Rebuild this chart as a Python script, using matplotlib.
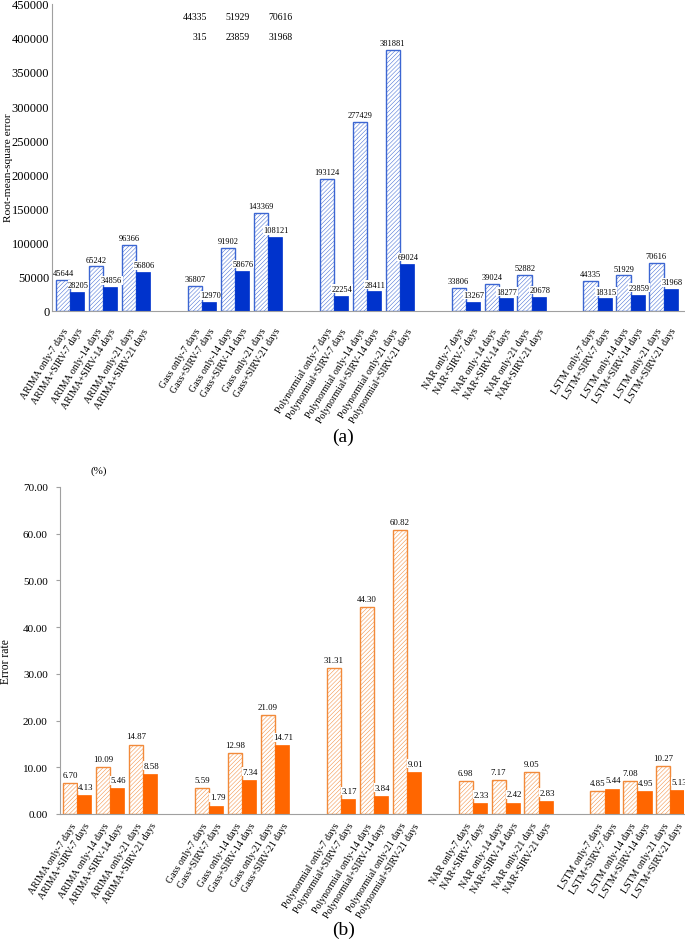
import matplotlib.pyplot as plt
import numpy as np

"""
RMSE and error rate of the five forecasting models, with and without SIRV.
"""

plt.rcParams['font.family'] = ['Liberation Serif', 'DejaVu Serif']
plt.rcParams['hatch.linewidth'] = 0.35

models = ['ARIMA', 'Gass', 'Polynormial', 'NAR', 'LSTM']
days = [7, 14, 21]

rmse_only = [45644, 65242, 96366, 36807, 91902, 143369, 193124, 277429, 381881,
             33806, 39024, 52882, 44335, 51929, 70616]
rmse_sirv = [28205, 34856, 56806, 12970, 58676, 108121, 22254, 28411, 69024,
             13267, 18277, 20678, 18315, 23859, 31968]

err_only = [6.70, 10.09, 14.87, 5.59, 12.98, 21.09, 31.31, 44.30, 60.82,
            6.98, 7.17, 9.05, 4.85, 7.08, 10.27]
err_sirv = [4.13, 5.46, 8.58, 1.79, 7.34, 14.71, 3.17, 3.84, 9.01,
            2.33, 2.42, 2.83, 5.44, 4.95, 5.13]

# stray labels left over in the top panel of the original figure
stray_top = ['44335', '51929', '70616']
stray_bottom = ['315', '23859', '31968']

W = 0.43


def slots():
    # one blank pair slot between model groups
    return np.array([g * 4 + k for g in range(len(models)) for k in range(len(days))])


def tick_labels():
    labels = []
    for m in models:
        for d in days:
            labels.append(f'{m} only-{d} days')
            labels.append(f'{m}+SIRV-{d} days')
    return labels


def draw(ax, only, sirv, edge, solid, fmt, ymax, step, off, vsize, xpad):
    x = slots()
    b1 = ax.bar(x - W / 2, only, W, facecolor='white', edgecolor=edge,
                hatch='////////', linewidth=1.0)
    b2 = ax.bar(x + W / 2, sirv, W, color=solid, edgecolor=solid, linewidth=0.5)
    for r, v in zip(b1, only):
        ax.annotate(fmt(v), (r.get_x() + r.get_width() / 2, v), xytext=(0, off),
                    textcoords='offset points', ha='center', va='bottom', fontsize=vsize)
    for r, v in zip(b2, sirv):
        ax.annotate(fmt(v), (r.get_x() + r.get_width() / 2, v), xytext=(1, off),
                    textcoords='offset points', ha='center', va='bottom', fontsize=vsize,
                    bbox=dict(facecolor='white', edgecolor='none', pad=0.3))

    pos = np.ravel(np.column_stack([x - W / 2, x + W / 2]))
    ax.set_xticks(pos)
    ax.set_xticklabels(tick_labels(), rotation=58, ha='right',
                       rotation_mode='anchor', fontsize=7.1)
    ax.set_ylim(0, ymax)
    ax.set_yticks(np.arange(0, ymax + step / 2, step))
    for s in ['top', 'right']:
        ax.spines[s].set_visible(False)
    for s in ['left', 'bottom']:
        ax.spines[s].set_color('#a0a0a0')
    ax.tick_params(axis='x', length=0, pad=xpad)


fig = plt.figure(figsize=(6.85, 9.45), dpi=100)

ax1 = fig.add_axes([0.076, 0.670, 0.924, 0.325])
draw(ax1, rmse_only, rmse_sirv, '#3c66d2', '#0033cc', lambda v: f'{v}',
     450000, 50000, 2, 6.0, 11)
ax1.set_xlim(-0.545, 18.65)
ax1.tick_params(axis='y', labelsize=9, length=0, pad=2)
ax1.set_ylabel('Root-mean-square error', fontsize=8.2)
ax1.yaxis.set_label_coords(-0.062, 0.47)
for i, (a, b) in enumerate(zip(stray_top, stray_bottom)):
    ax1.text(4.15 + i * 1.3, 431000, a, ha='right', va='center', fontsize=7)
    ax1.text(4.15 + i * 1.3, 401500, b, ha='right', va='center', fontsize=7)

ax2 = fig.add_axes([0.088, 0.1376, 0.910, 0.346])
draw(ax2, err_only, err_sirv, '#f28a3a', '#ff6600', lambda v: f'{v:.2f}',
     70, 10, 3, 6.3, 5)
ax2.set_xlim(-0.515, 18.4)
ax2.yaxis.set_major_formatter(plt.FormatStrFormatter('%.2f'))
ax2.tick_params(axis='y', labelsize=8, length=3, color='#a0a0a0', pad=6)
ax2.set_ylabel('Error rate', fontsize=8.4)
ax2.yaxis.set_label_coords(-0.078, 0.47)
ax2.text(0.062, 1.05, '(%)', transform=ax2.transAxes, ha='center', va='center', fontsize=8)

fig.text(0.501, 0.537, '(a)', ha='center', va='center', fontsize=14)
fig.text(0.501, 0.016, '(b)', ha='center', va='center', fontsize=14)

plt.savefig('out.png', dpi=100)
